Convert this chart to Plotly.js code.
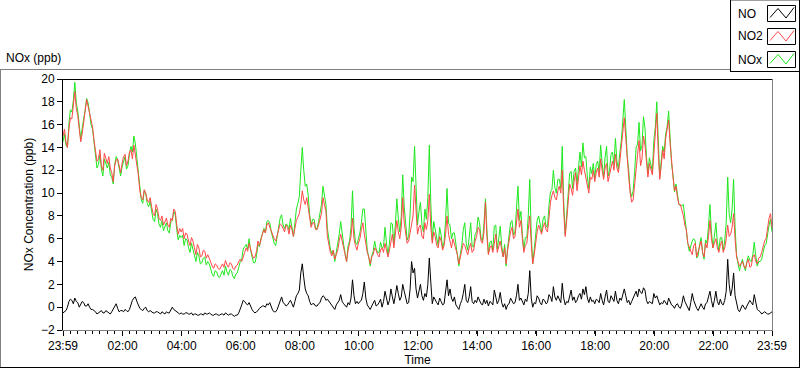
<!DOCTYPE html>
<html>
<head>
<meta charset="utf-8">
<script src="https://cdn.plot.ly/plotly-3.0.1.min.js"></script>
<style>
html,body{margin:0;padding:0;background:#fff;}
#chart{width:800px;height:369px;}
</style>
</head>
<body>
<div id="chart"></div>
<script>
// ---- data (3-minute samples from 23:59 to 23:59 next day, one row per hour) ----
const startTime = '2024-01-01 23:59:00';
const stepMinutes = 3;
const tickLabels = ['23:59','02:00','04:00','06:00','08:00','10:00','12:00','14:00','16:00','18:00','20:00','22:00','23:59'];
const seriesNames = ['NO','NO2','NOx'];

const NO2 = [
 15.0,15.6,14.5,14.0,15.6,16.6,16.5,17.8,18.9,17.4,16.8,15.6,14.5,15.2,16.0,17.2,18.2,17.6,17.0,16.2,
 15.8,14.6,13.5,12.8,13.0,13.8,12.4,12.0,13.5,12.9,12.6,13.2,12.2,11.8,11.0,12.4,12.9,13.0,12.4,11.8,
 12.6,13.2,13.4,12.4,12.8,13.6,13.8,13.0,14.2,13.4,12.6,11.6,10.2,9.6,9.4,10.3,10.0,9.4,9.2,9.6,
 8.8,8.2,8.0,9.0,8.6,7.8,7.6,8.0,7.2,7.6,7.8,7.2,7.0,7.8,7.6,8.6,8.4,7.2,6.4,6.9,
 6.6,6.9,6.0,6.5,6.4,5.8,5.4,6.1,5.8,5.2,4.6,5.5,5.2,4.4,4.5,5.0,4.9,4.3,4.6,4.3,
 3.9,3.6,3.4,3.8,3.7,3.4,3.3,3.6,3.8,3.5,4.1,3.7,3.5,3.9,3.8,3.4,3.3,3.6,3.7,4.0,
 4.2,4.0,4.5,4.8,5.2,4.9,5.6,5.0,4.6,4.3,4.4,4.9,5.8,5.4,6.0,6.4,6.8,6.5,7.2,7.4,
 7.0,6.6,6.4,6.0,5.8,6.4,6.9,7.3,7.2,6.8,6.6,7.2,7.0,6.4,7.2,6.8,6.2,6.9,7.6,7.9,
 8.2,9.0,10.2,9.4,9.0,9.6,8.8,7.6,7.0,7.4,7.4,6.8,6.8,7.2,7.8,8.2,9.6,9.0,8.4,6.2,
 5.4,4.8,4.5,5.0,4.2,4.6,5.0,5.8,6.4,5.8,5.2,4.6,4.0,5.0,5.6,6.2,7.8,6.0,5.4,5.0,
 5.6,6.0,6.8,7.4,6.4,5.4,4.8,4.4,3.8,4.4,4.6,5.2,5.0,4.6,4.4,5.0,5.2,4.8,5.6,5.0,
 4.4,5.0,5.8,6.4,5.2,6.2,7.6,6.6,6.0,7.0,9.6,7.4,6.4,5.6,5.8,6.6,7.4,8.0,10.7,8.0,
 6.4,7.0,7.2,6.2,6.0,7.4,6.8,7.6,9.9,7.0,5.6,6.6,6.2,5.4,5.2,6.2,5.8,5.0,5.4,6.4,
 8.0,6.4,5.6,5.2,6.0,5.6,5.2,4.6,3.8,4.4,4.8,5.6,5.4,5.0,4.6,5.2,5.6,4.8,5.0,5.8,
 6.2,7.0,6.8,5.8,5.6,6.6,9.2,6.2,4.6,5.2,5.4,4.8,5.6,6.4,4.8,5.4,5.8,5.0,4.4,5.2,
 3.8,5.0,6.0,6.6,7.0,6.0,6.2,7.2,8.6,7.0,7.6,6.0,4.8,5.4,5.6,6.8,8.0,5.6,3.8,4.6,
 5.8,6.6,7.2,6.8,6.4,7.0,7.4,6.8,6.6,7.8,9.2,9.8,10.2,9.6,9.4,10.2,10.6,10.0,12.0,8.4,
 6.2,7.6,9.6,10.8,10.4,9.8,11.0,11.8,10.2,11.2,12.4,11.6,12.8,12.0,11.4,10.6,10.0,11.4,11.2,12.0,
 11.0,11.8,12.2,11.4,13.0,12.0,11.2,12.2,12.6,11.0,11.6,12.4,12.8,12.0,13.4,12.2,11.8,12.8,14.0,15.2,
 16.6,14.8,12.8,11.4,10.0,9.2,9.4,10.8,12.6,13.4,14.6,12.4,13.0,15.0,14.2,12.6,11.4,12.6,12.0,11.6,
 13.4,15.0,17.0,13.6,11.2,12.4,13.8,13.0,14.8,15.6,16.4,14.4,12.4,11.4,10.2,10.6,9.6,9.0,9.0,8.6,
 8.0,7.2,6.8,5.6,5.2,5.0,4.6,5.4,5.6,4.4,4.8,5.4,5.8,4.8,4.4,5.6,5.2,6.2,7.6,6.0,
 5.2,5.6,6.0,5.2,4.8,5.4,5.8,4.8,5.2,6.0,7.2,6.2,6.4,7.0,8.2,6.0,4.4,4.0,3.6,3.8,
 4.0,3.6,3.4,3.9,4.2,3.5,3.6,4.4,4.6,4.0,3.8,4.3,4.4,4.8,5.4,5.8,6.0,7.0,7.8,8.2,
 7.0
];

const NO = [
 -0.5,-0.4,-0.3,0.0,0.5,0.7,0.6,0.3,0.8,0.5,0.4,0.0,0.2,0.5,0.4,0.1,0.1,0.3,0.0,-0.2,
 -0.2,-0.3,-0.4,-0.6,-0.5,-0.4,-0.3,-0.5,-0.5,-0.3,-0.4,-0.5,-0.6,-0.4,-0.2,0.1,0.3,-0.1,-0.4,-0.3,
 -0.3,-0.4,-0.2,-0.3,-0.4,-0.2,0.3,0.6,0.8,0.9,0.5,0.2,-0.1,-0.2,-0.3,-0.1,0.0,-0.3,-0.4,-0.3,
 -0.4,-0.5,-0.5,-0.4,-0.4,-0.5,-0.6,-0.4,-0.5,-0.6,-0.4,-0.5,-0.5,-0.3,0.0,-0.2,-0.3,-0.4,-0.5,-0.6,
 -0.5,-0.6,-0.6,-0.5,-0.5,-0.6,-0.6,-0.5,-0.7,-0.6,-0.6,-0.7,-0.7,-0.6,-0.6,-0.7,-0.5,-0.6,-0.6,-0.5,
 -0.6,-0.7,-0.7,-0.6,-0.6,-0.7,-0.7,-0.6,-0.6,-0.7,-0.5,-0.6,-0.7,-0.6,-0.6,-0.7,-0.8,-0.7,-0.7,-0.5,
 -0.2,0.2,0.6,0.5,0.3,0.2,0.4,0.0,-0.2,-0.4,-0.5,-0.4,-0.3,-0.1,0.0,0.1,0.1,0.0,0.3,0.2,
 0.4,0.0,-0.3,-0.4,-0.4,-0.2,0.2,0.5,0.9,0.4,0.3,0.1,0.2,0.4,0.6,0.3,0.0,0.5,1.0,1.2,
 1.5,3.0,3.8,2.6,1.6,1.2,1.0,0.5,0.2,0.3,0.3,0.1,0.1,0.3,0.4,0.8,1.0,0.9,0.6,0.7,
 0.5,0.3,0.2,0.0,-0.2,0.2,0.4,0.6,1.1,0.5,0.3,0.1,0.0,0.4,0.2,0.8,2.4,1.0,0.3,0.5,
 0.3,0.5,0.6,1.2,2.2,0.8,0.2,0.0,-0.2,0.1,0.3,0.6,0.1,0.2,0.4,0.7,0.0,0.5,1.4,0.6,
 0.2,0.6,1.6,0.9,0.3,1.0,1.9,1.2,0.6,0.9,2.0,1.4,0.8,0.3,0.4,1.6,4.0,3.0,3.4,1.6,
 0.8,1.4,2.0,1.0,0.6,1.2,0.9,2.0,4.3,2.2,0.3,0.9,0.6,0.4,0.2,0.8,0.5,0.2,0.3,1.2,
 2.4,1.0,1.6,0.8,0.5,0.9,0.2,0.0,-0.2,0.3,0.6,1.2,2.0,0.6,0.4,0.9,1.8,0.5,0.3,0.6,
 0.4,0.9,0.6,0.3,0.2,0.7,0.3,0.6,0.1,0.5,0.4,0.2,1.5,0.8,0.3,0.6,1.3,0.4,0.0,0.3,
 -0.2,0.2,0.3,0.8,0.6,0.3,0.4,1.0,2.0,0.6,0.8,0.4,0.2,0.7,0.5,1.2,3.2,0.8,0.0,0.4,
 0.3,1.0,0.8,0.4,0.2,0.7,0.6,0.3,0.4,1.1,0.9,0.5,1.8,0.9,0.6,1.0,0.6,0.4,2.1,0.8,
 0.2,0.5,0.4,0.9,1.5,0.6,0.9,0.4,0.6,1.0,1.2,0.7,1.6,1.1,1.8,0.8,0.4,0.9,0.5,0.6,
 0.3,0.7,0.6,0.4,1.2,0.6,0.2,0.9,1.5,0.5,0.4,1.0,0.8,0.5,1.4,0.6,0.3,0.8,0.6,1.2,
 1.6,1.0,0.4,0.6,0.2,0.5,0.8,1.1,1.4,0.9,1.6,1.3,1.2,1.7,1.5,0.6,0.3,0.5,0.4,0.3,
 1.2,0.8,1.0,0.5,0.2,0.4,0.3,0.6,0.4,0.2,0.8,0.5,0.2,0.1,-0.1,0.2,0.3,0.0,-0.1,0.3,
 1.0,0.5,0.2,0.0,-0.3,0.4,1.2,0.6,0.2,-0.1,-0.3,0.1,0.3,0.0,-0.2,0.3,0.4,0.9,1.4,0.6,
 0.0,0.6,1.4,0.5,0.2,0.7,0.3,0.2,0.6,1.4,4.2,2.0,1.0,1.6,3.0,1.0,0.2,-0.2,-0.4,0.0,
 0.2,0.0,-0.2,0.1,0.3,0.6,0.4,0.2,1.1,0.5,-0.2,-0.3,-0.4,-0.6,-0.5,-0.4,-0.5,-0.6,-0.6,-0.5,
 -0.4
];

const NOx = [
 14.5,15.2,14.2,14.0,16.1,17.3,17.1,18.1,19.7,17.9,17.2,15.6,14.7,15.7,16.4,17.3,18.3,17.9,17.0,16.0,
 15.6,14.3,13.1,12.2,12.5,13.4,12.1,11.5,13.0,12.6,12.2,12.7,11.6,11.4,10.8,12.5,13.2,12.9,12.0,11.5,
 12.3,12.8,13.2,12.1,12.4,13.4,14.1,13.6,15.0,14.3,13.1,11.8,10.1,9.4,9.1,10.2,10.0,9.1,8.8,9.3,
 8.4,7.7,7.5,8.6,8.2,7.3,7.0,7.6,6.7,7.0,7.4,6.7,6.5,7.5,7.6,8.4,8.1,6.8,5.9,6.3,
 6.1,6.3,5.4,6.0,5.9,5.2,4.8,5.6,5.1,4.6,4.0,4.8,4.5,3.8,3.9,4.3,4.4,3.7,4.0,3.8,
 3.3,2.9,2.7,3.2,3.1,2.7,2.6,3.0,3.2,2.8,3.6,3.1,2.8,3.3,3.2,2.7,2.5,2.9,3.0,3.5,
 4.0,4.2,5.1,5.3,5.5,5.1,6.0,5.0,4.4,3.9,3.9,4.5,5.5,5.3,6.0,6.5,6.9,6.5,7.5,7.6,
 7.4,6.6,6.1,5.6,5.4,6.2,7.1,7.8,8.1,7.2,6.9,7.3,7.2,6.8,7.8,7.1,6.2,7.4,8.6,9.1,
 9.7,12.0,14.0,12.0,10.6,10.8,9.8,8.1,7.2,7.7,7.7,6.9,6.9,7.5,8.2,9.0,10.6,9.9,9.0,6.9,
 5.9,5.1,4.7,5.0,4.0,4.8,5.4,6.4,7.5,6.3,5.5,4.7,4.0,5.4,5.8,7.0,10.2,7.0,5.7,5.5,
 5.9,6.5,7.4,8.6,8.6,6.2,5.0,4.4,3.6,4.5,4.9,5.8,5.1,4.8,4.8,5.7,5.2,5.3,7.0,5.6,
 4.6,5.6,7.4,7.3,5.5,7.2,9.5,7.8,6.6,7.9,11.6,8.8,7.2,5.9,6.2,8.2,11.4,11.0,14.1,9.6,
 7.2,8.4,9.2,7.2,6.6,8.6,7.7,9.6,14.2,9.2,5.9,7.5,6.8,5.8,5.4,7.0,6.3,5.2,5.7,7.6,
 10.4,7.4,7.2,6.0,6.5,6.5,5.4,4.6,3.6,4.7,5.4,6.8,7.4,5.6,5.0,6.1,7.4,5.3,5.3,6.4,
 6.6,7.9,7.4,6.1,5.8,7.3,9.5,6.8,4.7,5.7,5.8,5.0,7.1,7.2,5.1,6.0,7.1,5.4,4.4,5.5,
 3.6,5.2,6.3,7.4,7.6,6.3,6.6,8.2,10.6,7.6,8.4,6.4,5.0,6.1,6.1,8.0,11.2,6.4,3.8,5.0,
 6.1,7.6,8.0,7.2,6.6,7.7,8.0,7.1,7.0,8.9,10.1,10.3,12.0,10.5,10.0,11.2,11.2,10.4,14.1,9.2,
 6.4,8.1,10.0,11.7,11.9,10.4,11.9,12.2,10.8,12.2,13.6,12.3,14.4,13.1,13.2,11.4,10.4,12.3,11.7,12.6,
 11.3,12.5,12.8,11.8,14.2,12.6,11.4,13.1,14.1,11.5,12.0,13.4,13.6,12.5,14.8,12.8,12.1,13.6,14.6,16.4,
 18.2,15.8,13.2,12.0,10.2,9.7,10.2,11.9,14.0,14.3,16.2,13.7,14.2,16.7,15.7,13.2,11.7,13.1,12.4,11.9,
 14.6,15.8,18.0,14.1,11.4,12.8,14.1,13.6,15.2,15.8,17.2,14.9,12.6,11.5,10.1,10.8,9.9,9.0,8.9,8.9,
 9.0,7.7,7.0,5.6,4.9,5.4,5.8,6.0,5.8,4.3,4.5,5.5,6.1,4.8,4.2,5.9,5.6,7.1,9.0,6.6,
 5.2,6.2,7.4,5.7,5.0,6.1,6.1,5.0,5.8,7.4,11.4,8.2,7.4,8.6,11.2,7.0,4.6,3.8,3.2,3.8,
 4.2,3.6,3.2,4.0,4.5,4.1,4.0,4.6,5.7,4.5,3.6,4.0,4.0,4.2,4.9,5.4,5.5,6.4,7.2,7.7,
 6.6
];

// ---- time stamps ----
function pad(n){return (n<10?'0':'')+n;}
function fmt(ms){const d=new Date(ms);return d.getUTCFullYear()+'-'+pad(d.getUTCMonth()+1)+'-'+pad(d.getUTCDate())+' '+pad(d.getUTCHours())+':'+pad(d.getUTCMinutes())+':00';}
const t0 = Date.UTC(2024,0,1,23,59);
const times = NO2.map((_,i)=>fmt(t0+i*stepMinutes*60000));
const endTime = fmt(t0+24*3600000);
const tickVals = tickLabels.map((l,i)=> i===0 ? startTime : (i===tickLabels.length-1 ? endTime : '2024-01-02 '+l+':00'));

// ---- pixel helpers for decorations ----
const L=63, T=79, W=709, H=251;
const X = px => (px-L)/W;
const Y = py => (T+H-py)/H;
function hline(y,x0,x1,c){return {type:'line',xref:'paper',yref:'paper',x0:X(x0),x1:X(x1),y0:Y(y),y1:Y(y),line:{color:c,width:1},layer:'above'};}
function vline(x,y0,y1,c){return {type:'line',xref:'paper',yref:'paper',x0:X(x),x1:X(x),y0:Y(y0),y1:Y(y1),line:{color:c,width:1},layer:'above'};}

const colors = {NO:'#000000', NO2:'#ff4848', NOx:'#1ee81e'};
const FONT = 'Liberation Sans, Arial, sans-serif';

const shapes = [
  // outer panel
  hline(69.5,0,730,'#808080'),
  vline(0.5,69,368,'#808080'),
  hline(367.5,0,800,'#000000'),
  vline(799.5,72,368,'#000000'),
  // plot frame
  hline(79.5,62,773,'#000000'),
  vline(62.5,79,331,'#000000'),
  vline(772.5,79,331,'#808080'),
  hline(330.5,62,773,'#808080'),
  // legend frame
  hline(0.5,730,800,'#a0a0a0'),
  vline(730.5,0,72,'#000000'),
  hline(71.5,730,800,'#000000'),
  vline(799.5,0,72,'#000000')
];
const annotations = [
  {xref:'paper',yref:'paper',x:X(4),y:Y(58),xanchor:'left',yanchor:'middle',text:'NOx (ppb)',showarrow:false,font:{family:FONT,size:12,color:'#000'}}
];
seriesNames.forEach((n,i)=>{
  const off=i*23;
  shapes.push({type:'rect',xref:'paper',yref:'paper',x0:X(767.5),x1:X(795.5),y0:Y(5.5+off),y1:Y(21.5+off),line:{color:'#000',width:1},fillcolor:'#fff',layer:'above'});
  const pts=[[770,17.5],[778,8.5],[786,18],[794,7.5]].map(p=>X(p[0])+','+Y(p[1]+off));
  shapes.push({type:'path',xref:'paper',yref:'paper',path:'M'+pts.join(' L'),line:{color:colors[n],width:1},layer:'above'});
  annotations.push({xref:'paper',yref:'paper',x:X(736),y:Y(13.5+off),xanchor:'left',yanchor:'middle',text:n,showarrow:false,font:{family:FONT,size:12,color:'#000'}});
});

const traces = [
  {x:times,y:NOx,name:'NOx',type:'scatter',mode:'lines',line:{color:colors.NOx,width:1}},
  {x:times,y:NO2,name:'NO2',type:'scatter',mode:'lines',line:{color:colors.NO2,width:1}},
  {x:times,y:NO,name:'NO',type:'scatter',mode:'lines',line:{color:colors.NO,width:1}}
];

const layout = {
  width:800,height:369,
  margin:{l:L,r:800-L-W,t:T,b:369-T-H,pad:0},
  paper_bgcolor:'#ffffff',plot_bgcolor:'#ffffff',
  showlegend:false,
  font:{family:FONT,size:12,color:'#000'},
  xaxis:{
    type:'date',range:[startTime,endTime],
    tickmode:'array',tickvals:tickVals,ticktext:tickLabels,
    ticks:'outside',ticklen:5,tickcolor:'#000',tickwidth:1,
    minor:{ticks:'outside',ticklen:3,tickcolor:'#000',tickwidth:1,dtick:15*60000,tick0:startTime,showgrid:false},
    showgrid:false,zeroline:false,showline:false,
    tickfont:{family:FONT,size:12,color:'#000'},
    title:{text:'Time',font:{family:FONT,size:12,color:'#000'},standoff:3},
    automargin:false,fixedrange:true
  },
  yaxis:{
    range:[-2,20],tickmode:'linear',tick0:0,dtick:2,
    ticks:'outside',ticklen:5,tickcolor:'#000',tickwidth:1,
    showgrid:false,zeroline:false,showline:false,
    tickfont:{family:FONT,size:12,color:'#000'},
    title:{text:'NOx Concentration (ppb)',font:{family:FONT,size:12,color:'#000'},standoff:4},
    automargin:false,fixedrange:true
  },
  shapes:shapes,
  annotations:annotations
};

Plotly.newPlot('chart',traces,layout,{staticPlot:true,displayModeBar:false});
</script>
</body>
</html>
